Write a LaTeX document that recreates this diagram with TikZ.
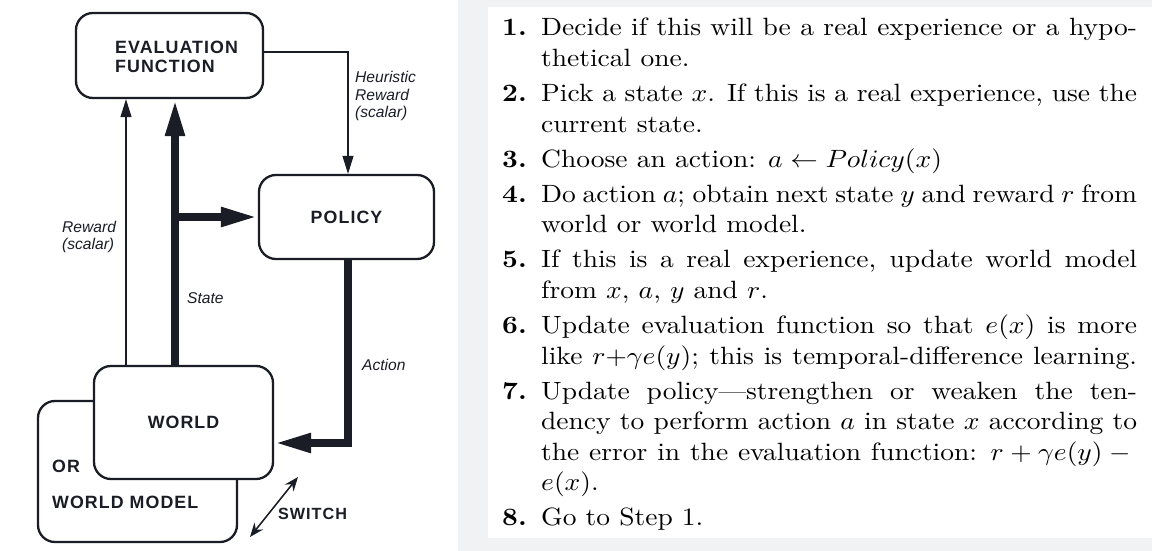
\documentclass[tikz,border=0pt]{standalone}
\usepackage{fontspec}
\usepackage{graphicx}
\usetikzlibrary{arrows.meta}
\newfontfamily\capsfont[LetterSpace=6]{Liberation Sans}
\newfontfamily\lblfont{Liberation Sans}
\definecolor{ink}{HTML}{1B1D26}
\definecolor{panel}{HTML}{F1F2F4}
\newcommand{\jl}[1]{\scalebox{2.75}[2.5]{\makebox[216.7pt][s]{#1}}}
\newcommand{\pl}[1]{\scalebox{2.75}[2.5]{#1}}
\newcommand{\nm}[1]{\scalebox{2.75}[2.5]{\textbf{#1}}}
\begin{document}
\begin{tikzpicture}[x=1pt,y=-1pt,
  box/.style={draw=ink, line width=2.3pt, rounded corners=17pt, fill=white, inner sep=0pt},
  capstxt/.style={font=\capsfont\bfseries\fontsize{17.8}{19}\selectfont, text=ink, inner sep=0pt},
  lbl/.style={font=\lblfont\itshape\fontsize{15.6}{17.5}\selectfont, text=ink, inner sep=0pt, align=left, anchor=west},
  thinarr/.style={draw=ink, line width=1.2pt, -{Triangle[length=18pt,width=11pt]}},
  thickarr/.style={draw=ink, line width=8pt, -{Triangle[length=37pt,width=18pt]}},
  txt/.style={inner sep=0pt, anchor=base west},
  num/.style={inner sep=0pt, anchor=base east}]
% background panels
\fill[white] (0,0) rectangle (1152,551);
\fill[panel] (458,0) rectangle (1152,551);
\fill[white] (488,7) rectangle (1152,538);
\useasboundingbox (0,0) rectangle (1152,551);
% boxes
\node[box, minimum width=187pt, minimum height=85pt] (eval) at (169.5,55.5) {};
\node[capstxt, align=left, anchor=west] (evaltxt) at (115,56.5) {EVALUATION\\FUNCTION};
\node[box, capstxt, minimum width=175pt, minimum height=84pt] (policy) at (346.5,217) {POLICY};
\node[box, minimum width=199pt, minimum height=141pt] (wm) at (137.5,471.5) {};
\node[box, capstxt, minimum width=179pt, minimum height=113pt] (world) at (183.5,422.5) {WORLD};
\node[capstxt, anchor=west] (ortxt) at (52,466) {OR};
\node[capstxt, anchor=west] (wmtxt) at (52,502) {WORLD MODEL};
\node[capstxt, anchor=west, font=\capsfont\bfseries\fontsize{16.2}{18}\selectfont] (swtxt) at (278,514) {SWITCH};
% coordinates
\coordinate (rx) at (126,0);
\coordinate (sx) at (175,0);
\coordinate (ax) at (348,0);
\coordinate (br) at (175,217);
\coordinate (sw1) at (250,537);
\coordinate (sw2) at (298,477);
% connectors
\draw[thinarr] ([yshift=3.5pt]eval.east) -| (policy.north -| ax);
\draw[thinarr] (world.north -| rx) -- (eval.south -| rx);
\draw[thickarr] (world.north -| sx) -- (eval.south -| sx);
\draw[thickarr] (br) -- (policy.west);
\draw[thickarr] (policy.south -| ax) |- ([yshift=-20.5pt]world.east);
\draw[draw=ink, line width=1.5pt, {Stealth[length=14pt,width=11pt]}-{Stealth[length=14pt,width=11pt]}] (sw1) -- (sw2);
% labels
\node[lbl] (heur) at (355,96) {Heuristic\\Reward\\(scalar)};
\node[lbl] (rew) at (62,237) {Reward\\(scalar)};
\node[lbl] (state) at (187,298) {State};
\node[lbl] (act) at (362,365) {Action};
% right text
\node[num] (n1) at (527,36) {\nm{1.}};
\node[txt] (l1) at (541,36) {\jl{Decide if this will be a real experience or a hypo-}};
\node[txt] (l2) at (541,66.5) {\pl{thetical one.}};
\node[num] (n2) at (527,101.6) {\nm{2.}};
\node[txt] (l3) at (541,101.6) {\jl{Pick a state $x$. If this is a real experience, use the}};
\node[txt] (l4) at (541,132.1) {\pl{current state.}};
\node[num] (n3) at (527,167.2) {\nm{3.}};
\node[txt] (l5) at (541,167.2) {\pl{Choose an action: $a \leftarrow Policy(x)$}};
\node[num] (n4) at (527,202.3) {\nm{4.}};
\node[txt] (l6) at (541,202.3) {\jl{Do action $a$; obtain next state $y$ and reward $r$ from}};
\node[txt] (l7) at (541,232.8) {\pl{world or world model.}};
\node[num] (n5) at (527,267.9) {\nm{5.}};
\node[txt] (l8) at (541,267.9) {\jl{If this is a real experience, update world model}};
\node[txt] (l9) at (541,298.4) {\pl{from $x$, $a$, $y$ and $r$.}};
\node[num] (n6) at (527,333.5) {\nm{6.}};
\node[txt] (l10) at (541,333.5) {\jl{Update evaluation function so that $e(x)$ is more}};
\node[txt] (l11) at (541,364) {\jl{like $r{+}\gamma e(y)$; this is temporal-difference learning.}};
\node[num] (n7) at (527,399.1) {\nm{7.}};
\node[txt] (l12) at (541,399.1) {\jl{Update policy---strengthen or weaken the ten-}};
\node[txt] (l13) at (541,429.6) {\jl{dency to perform action $a$ in state $x$ according to}};
\node[txt] (l14) at (541,460.1) {\jl{the error in the evaluation function: $r+\gamma e(y)-{}$}};
\node[txt] (l15) at (541,490.6) {\pl{$e(x)$.}};
\node[num] (n8) at (527,525.7) {\nm{8.}};
\node[txt] (l16) at (541,525.7) {\pl{Go to Step 1.}};
\end{tikzpicture}
\end{document}
